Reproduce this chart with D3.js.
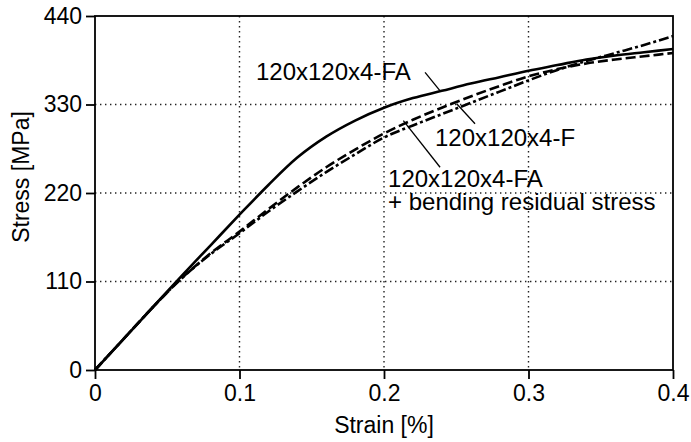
<!DOCTYPE html>
<html>
<head>
<meta charset="utf-8">
<script src="https://cdn.jsdelivr.net/npm/d3@7"></script>
<style>
  body { margin: 0; background: #fff; }
  svg { display: block; font-family: "Liberation Sans", Arial, sans-serif; }
</style>
</head>
<body>
<svg width="691" height="442"></svg>
<script>
// strain [%] sample points
const strain = [0, 0.02, 0.04, 0.06, 0.08, 0.10, 0.12, 0.14, 0.16, 0.18, 0.20,
                0.22, 0.24, 0.26, 0.28, 0.30, 0.32, 0.34, 0.36, 0.38, 0.40];
// 120x120x4-FA (solid)
const stressFA = [0, 39, 78, 117, 155, 193, 230, 264, 290, 310, 326,
                  338, 347, 356, 364, 372, 379, 386, 391, 395, 399];
// 120x120x4-FA + bending residual stress (dashed)
const stressFABend = [0, 39, 78, 114, 145, 172, 200, 227, 252, 274, 294,
                      311, 326, 340, 353, 365, 374, 381, 386, 390, 394];
// 120x120x4-F (dash-dot)
const stressF = [0, 39, 78, 114, 144, 170, 197, 222, 246, 268, 289,
                 304, 318, 332, 346, 360, 373, 384, 394, 404, 415];

const xTicks = [0, 0.1, 0.2, 0.3, 0.4];
const yTicks = [0, 110, 220, 330, 440];

const svg = d3.select("svg");
const margin = { top: 16, right: 18, bottom: 72, left: 95 };
const width = 691 - margin.left - margin.right;
const height = 442 - margin.top - margin.bottom;
const g = svg.append("g").attr("transform", `translate(${margin.left},${margin.top})`);

const x = d3.scaleLinear().domain([0, 0.4]).range([0, width]);
const y = d3.scaleLinear().domain([0, 440]).range([height, 0]);

// dotted grid
g.append("g").selectAll("line")
  .data(xTicks.slice(1, -1))
  .enter().append("line")
  .attr("x1", d => x(d)).attr("x2", d => x(d))
  .attr("y1", 0).attr("y2", height)
  .attr("stroke", "#222").attr("stroke-width", 1.4)
  .attr("stroke-dasharray", "1.4,3.6");
g.append("g").selectAll("line")
  .data(yTicks.slice(1, -1))
  .enter().append("line")
  .attr("x1", 0).attr("x2", width)
  .attr("y1", d => y(d)).attr("y2", d => y(d))
  .attr("stroke", "#222").attr("stroke-width", 1.4)
  .attr("stroke-dasharray", "1.4,3.6");

// curves
const series = [
  { values: stressFA, dash: null },
  { values: stressFABend, dash: "10,4" },
  { values: stressF, dash: "10,3,3,3" }
];
const line = d3.line()
  .x((d, i) => x(strain[i]))
  .y(d => y(d))
  .curve(d3.curveMonotoneX);
g.selectAll(".curve")
  .data(series)
  .enter().append("path")
  .attr("class", "curve")
  .attr("d", d => line(d.values))
  .attr("fill", "none")
  .attr("stroke", "#000")
  .attr("stroke-width", 2.6)
  .attr("stroke-dasharray", d => d.dash);

// axes
const fontSize = 23;
const xAxis = g.append("g").attr("transform", `translate(0,${height})`)
  .call(d3.axisBottom(x).tickValues(xTicks).tickSize(9).tickPadding(6)
    .tickFormat(d => d === 0 ? "0" : d3.format(".1f")(d)));
const yAxis = g.append("g")
  .call(d3.axisLeft(y).tickValues(yTicks).tickSize(9).tickPadding(4));
[xAxis, yAxis].forEach(a => {
  a.select(".domain").remove();
  a.selectAll(".tick line").attr("stroke", "#000").attr("stroke-width", 1.8);
  a.selectAll(".tick text").attr("fill", "#000").style("font-size", fontSize + "px")
    .style("font-family", "'Liberation Sans', Arial, sans-serif");
});

// frame
g.append("rect")
  .attr("x", 0).attr("y", 0).attr("width", width).attr("height", height)
  .attr("fill", "none").attr("stroke", "#000").attr("stroke-width", 1.8);

// axis titles
svg.append("text")
  .attr("x", margin.left + x(0.2)).attr("y", 433)
  .attr("text-anchor", "middle").style("font-size", fontSize + "px")
  .text("Strain [%]");
svg.append("text")
  .attr("transform", `translate(29,177) rotate(-90)`)
  .attr("text-anchor", "middle").style("font-size", fontSize + "px")
  .text("Stress [MPa]");

// labels with leader lines (data units); each text line is its own element
const labels = [
  { text: "120x120x4-FA", x: 0.1114, y: 360 },
  { text: "120x120x4-F", x: 0.2353, y: 278 },
  { text: "120x120x4-FA", x: 0.2028, y: 227.6 },
  { text: "+ bending residual stress", x: 0.2028, y: 198.4 }
];
const leaders = [
  [[0.2284, 370], [0.2388, 347]],
  [[0.2503, 331], [0.2630, 306]],
  [[0.2134, 310], [0.2388, 252]]
];
g.selectAll(".label")
  .data(labels)
  .enter().append("text")
  .attr("class", "label")
  .attr("x", d => x(d.x)).attr("y", d => y(d.y))
  .style("font-size", "24px")
  .text(d => d.text);
g.selectAll(".leader")
  .data(leaders)
  .enter().append("line")
  .attr("class", "leader")
  .attr("x1", d => x(d[0][0])).attr("y1", d => y(d[0][1]))
  .attr("x2", d => x(d[1][0])).attr("y2", d => y(d[1][1]))
  .attr("stroke", "#000").attr("stroke-width", 1.3);
</script>
</body>
</html>
